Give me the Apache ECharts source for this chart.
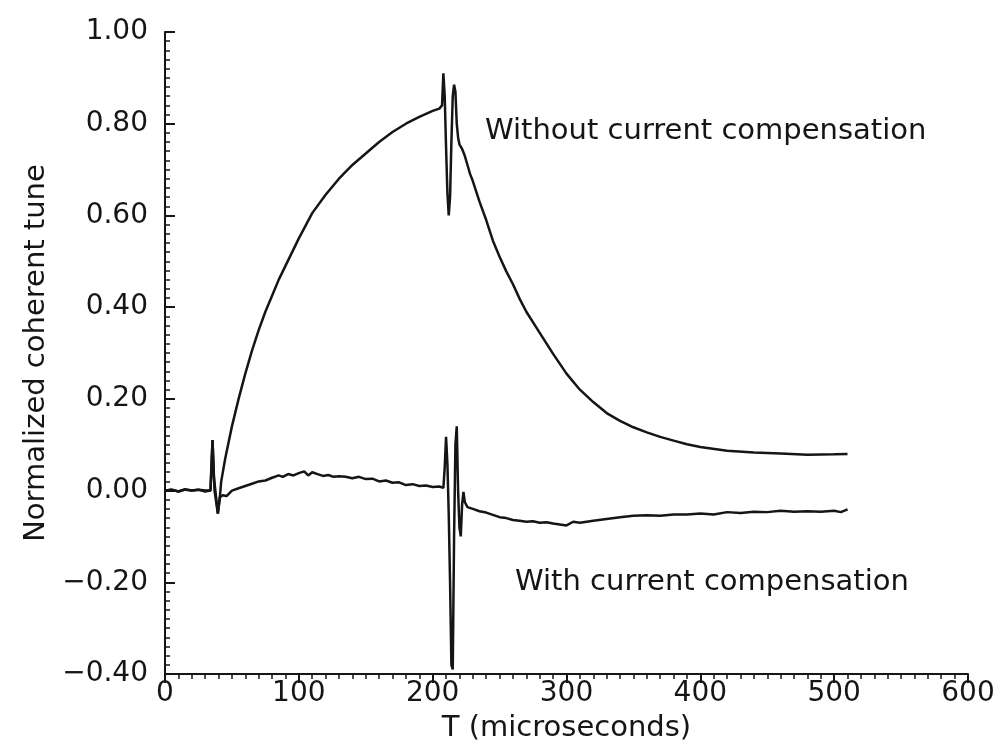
<!DOCTYPE html>
<html><head><meta charset="utf-8">
<script src="https://cdn.jsdelivr.net/npm/echarts@6/dist/echarts.min.js"></script>
<style>html,body{margin:0;padding:0;background:#fff}#c{width:1007px;height:747px}</style>
</head><body><div id="c"></div>
<script>
const xTicks = [0, 100, 200, 300, 400, 500, 600];
const yTicks = [-0.40, -0.20, 0.00, 0.20, 0.40, 0.60, 0.80, 1.00];
const xName = 'T (microseconds)';
const yName = 'Normalized coherent tune';
const labelWithout = 'Without current compensation';
const labelWith = 'With current compensation';

const withoutT = [0,5,10,15,20,25,30,34,35.5,36.5,39.5,41,42,45,50,55,60,65,70,75,80,85,90,95,100,110,120,130,140,150,160,170,180,190,200,205,207,208,209,210,211,212,213,214,215,216,217,218,219,220,221,222,224,226,228,230,235,240,245,250,255,260,265,270,280,290,300,310,320,330,340,350,360,370,380,390,400,420,440,460,480,500,510];
const withoutV = [0,0.002,-0.002,0.003,0,0.002,0,0,0.11,0.03,-0.05,-0.014,0.02,0.07,0.14,0.2,0.255,0.305,0.35,0.39,0.425,0.46,0.49,0.52,0.55,0.605,0.645,0.68,0.71,0.735,0.76,0.782,0.8,0.815,0.828,0.833,0.84,0.91,0.86,0.75,0.65,0.6,0.64,0.76,0.86,0.885,0.87,0.8,0.77,0.755,0.75,0.745,0.73,0.71,0.69,0.675,0.63,0.59,0.545,0.51,0.478,0.45,0.418,0.39,0.344,0.298,0.255,0.22,0.193,0.169,0.152,0.138,0.127,0.117,0.109,0.101,0.095,0.087,0.083,0.081,0.078,0.079,0.08];

const withT = [0,5,10,15,20,25,30,34,35.5,37,39.5,41,43,46,50,55,60,65,70,75,80,85,88,92,96,100,104,107,110,114,118,122,126,130,135,140,145,150,155,160,165,170,175,180,185,190,195,200,205,208,209,210,211,212,213,214,215,216,217,218,219,220,221,222,223,224,226,230,235,240,245,250,255,260,265,270,275,280,285,290,295,300,305,310,320,330,340,350,360,370,380,390,400,410,420,430,440,450,460,470,480,490,500,505,510];
const withV = [0,0.002,-0.002,0.002,0,0.002,-0.002,0,0.11,0,-0.05,-0.015,-0.01,-0.012,0,0.005,0.01,0.015,0.02,0.022,0.028,0.033,0.03,0.036,0.033,0.038,0.042,0.033,0.04,0.036,0.032,0.034,0.03,0.031,0.03,0.027,0.03,0.025,0.026,0.02,0.022,0.017,0.018,0.012,0.014,0.01,0.011,0.008,0.009,0.006,0.05,0.117,0.06,-0.05,-0.2,-0.38,-0.39,-0.1,0.1,0.14,0,-0.08,-0.1,-0.03,-0.003,-0.025,-0.036,-0.04,-0.045,-0.048,-0.053,-0.058,-0.06,-0.064,-0.066,-0.068,-0.067,-0.07,-0.069,-0.072,-0.074,-0.076,-0.068,-0.07,-0.066,-0.062,-0.058,-0.055,-0.054,-0.055,-0.052,-0.052,-0.05,-0.052,-0.047,-0.049,-0.046,-0.047,-0.044,-0.046,-0.045,-0.046,-0.044,-0.047,-0.041];

const ink = '#151515';
const font = 'DejaVu Sans';
const chart = echarts.init(document.getElementById('c'), null, {renderer: 'canvas'});
const pairs = (t, v) => t.map((x, i) => [x, v[i]]);

chart.setOption({
  animation: false,
  backgroundColor: '#fff',
  grid: {left: 165, right: 39, top: 32, bottom: 73, containLabel: false, outerBoundsMode: 'none'},
  xAxis: {
    type: 'value', min: xTicks[0], max: xTicks[xTicks.length - 1], interval: 100,
    name: xName, nameLocation: 'middle', nameGap: 40,
    nameTextStyle: {color: ink, fontFamily: font, fontSize: 29},
    axisLine: {show: true, onZero: false, lineStyle: {color: ink, width: 2}},
    axisTick: {show: true, inside: false, length: 9, lineStyle: {color: ink, width: 2}},
    minorTick: {show: true, splitNumber: 10, length: 5, lineStyle: {color: ink, width: 1.5}},
    splitLine: {show: false},
    axisLabel: {color: ink, fontFamily: font, fontSize: 28, margin: 6, formatter: v => String(v)}
  },
  yAxis: {
    type: 'value', min: yTicks[0], max: yTicks[yTicks.length - 1], interval: 0.2,
    name: yName, nameLocation: 'middle', nameGap: 112, nameRotate: 90,
    nameTextStyle: {color: ink, fontFamily: font, fontSize: 29},
    axisLine: {show: true, onZero: false, lineStyle: {color: ink, width: 2}},
    axisTick: {show: true, inside: true, length: 10, lineStyle: {color: ink, width: 2}},
    minorTick: {show: true, splitNumber: 10, length: 5, lineStyle: {color: ink, width: 1.5}},
    splitLine: {show: false},
    axisLabel: {color: ink, fontFamily: font, fontSize: 28, margin: 17,
      formatter: v => (v < 0 ? '\u2212' + Math.abs(v).toFixed(2) : v.toFixed(2))}
  },
  series: [
    {name: labelWithout, type: 'line', data: pairs(withoutT, withoutV), showSymbol: false,
     lineStyle: {color: ink, width: 2.5}, z: 3},
    {name: labelWith, type: 'line', data: pairs(withT, withV), showSymbol: false,
     lineStyle: {color: ink, width: 2.5}, z: 3}
  ],
  graphic: [
    {type: 'text', left: 485, top: 117, style: {text: labelWithout, fill: ink, font: '29px "DejaVu Sans"'}},
    {type: 'text', left: 515, top: 568, style: {text: labelWith, fill: ink, font: '29px "DejaVu Sans"'}}
  ]
});
</script></body></html>
